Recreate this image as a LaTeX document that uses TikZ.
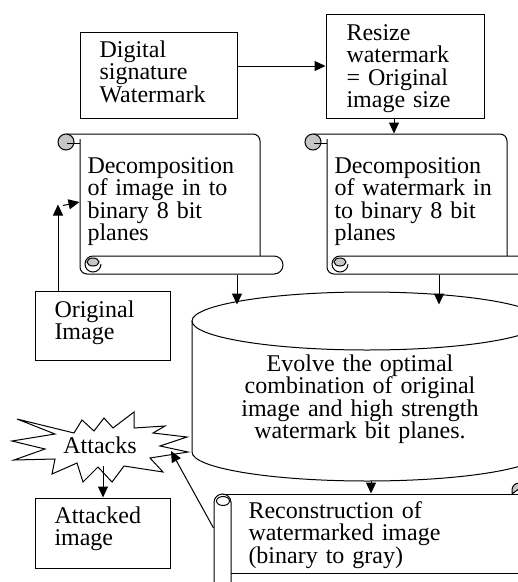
\documentclass[tikz,border=0pt]{standalone}
\usepackage{fontspec}
\setmainfont{Liberation Serif}
\usetikzlibrary{arrows.meta,calc}
\newcommand{\myvscroll}[1]{%
\begin{scope}[shift={(#1,0)}]
  % top edge and right side
  \draw (66,134) -- (253,134) arc[start angle=90,end angle=0,radius=7pt] -- (260,256);
  % top-left curl
  \filldraw[fill=gray!45] (66,142) circle[radius=8pt];
  \draw (67,143) -- (80,143);
  % left side and bottom corner
  \draw (80,139) -- (80,267) arc[start angle=180,end angle=270,radius=7pt] -- (274,274)
        arc[start angle=-90,end angle=90,radius=9pt] -- (93,256);
  % bottom curl
  \filldraw[fill=gray!45] (93,262) ellipse[x radius=6pt,y radius=4pt];
  \draw (93,256) arc[start angle=90,end angle=360,radius=8pt];
\end{scope}}
\begin{document}
\begin{tikzpicture}[x=1pt,y=-1pt,line width=1pt,
  txt/.style={inner sep=0pt,anchor=base west,align=left,text width=#1,
              font=\fontsize{24}{22.6}\selectfont},
  ctxt/.style={inner sep=0pt,anchor=base,align=center,text width=#1,
              font=\fontsize{24}{22.6}\selectfont},
  arr/.style={-{Triangle[length=11pt,width=10pt]}},
  boxnode/.style={draw,inner sep=0pt},
  ghost/.style={draw=none,inner sep=0pt}]
\useasboundingbox (0,0) rectangle (518,582);
\clip (0,0) rectangle (518,582);

% plain boxes
\node[boxnode,minimum width=157pt,minimum height=86pt] (dig) at (158.5,75) {};
\node[txt=140pt] (digt) at (99,57) {Digital\\signature\\Watermark};
\node[boxnode,minimum width=158pt,minimum height=104pt] (res) at (405,66) {};
\node[txt=140pt] (rest) at (346,40) {Resize\\watermark\\= Original\\image size};
\node[boxnode,minimum width=135pt,minimum height=69pt] (orig) at (102.5,325.5) {};
\node[txt=120pt] (origt) at (54,317) {Original\\Image};
\node[boxnode,minimum width=135pt,minimum height=70pt] (atk) at (102.5,533) {};
\node[txt=120pt] (atkt) at (54,523) {Attacked\\image};

% scrolls
\myvscroll{0}
\myvscroll{247}
\node[ghost,minimum width=180pt,minimum height=140pt] (ls) at (170,204) {};
\node[ghost,minimum width=180pt,minimum height=140pt] (rs) at (417,204) {};
\node[txt=180pt] (lst) at (87,173) {Decomposition\\of image in to\\binary 8 bit\\planes};
\node[txt=180pt] (rst) at (334,173) {Decomposition\\of watermark in\\to binary 8 bit\\planes};

% cylinder
\draw (192,321) -- (192,452) arc[start angle=180,end angle=360,x radius=175pt,y radius=29pt] -- (542,321);
\draw (367,321) ellipse[x radius=175pt,y radius=29pt];
\node[ghost,minimum width=350pt,minimum height=188pt] (cyl) at (367,386) {};
\node[ctxt=290pt] (cylt) at (360,371) {Evolve the optimal\\combination of original\\image and high strength\\watermark bit planes.};

% reconstruction scroll
\draw (214,590) -- (214,502.5) arc[start angle=180,end angle=0,radius=8.5pt] -- (231,590);
\draw (223,501) ellipse[x radius=6.5pt,y radius=4.5pt];
\draw (222.5,494) -- (530,494);
\draw (231,573) -- (530,573);
\filldraw[fill=gray!45] (512,494) -- (512,490) arc[start angle=180,end angle=45,radius=7pt] -- cycle;
\node[ghost,minimum width=316pt,minimum height=88pt] (rec) at (372,538) {};
\node[txt=260pt] (rect) at (248,518) {Reconstruction of\\watermarked image\\(binary to gray)};

% star
\draw[fill=white] (17,419) -- (55,434) -- (12,441) -- (45,449) -- (14,460) -- (55,459)
  -- (52,474) -- (77,463) -- (83,482) -- (98,467) -- (112,482) -- (124,466)
  -- (163,472) -- (150,458) -- (188,452) -- (160,446) -- (187,437) -- (153,433)
  -- (165,426) -- (134,428) -- (134,412) -- (113,428) -- (104,418) -- (94,431)
  -- (82,420) -- (74,433) -- cycle;
\node[inner sep=0pt,anchor=base,font=\fontsize{24}{22.6}\selectfont] (att) at (100,453) {Attacks};
\coordinate (attb) at (103,466);
\coordinate (atip) at (171,451);

% connectors
\draw[arr] (res.west -| dig.east) -- (res.west);
\draw[arr] ([xshift=-11pt]res.south) -- ([xshift=-11pt]res.south |- rs.north);
\draw[arr] ([xshift=67pt]ls.south) -- ([xshift=67pt,yshift=-13pt]ls.south |- cyl.north);
\draw[arr] ([xshift=22pt]rs.south) -- ([xshift=22pt,yshift=-13pt]rs.south |- cyl.north);
\draw[arr] ([xshift=4pt]cyl.south) -- ([xshift=4pt]cyl.south |- rec.north);
\draw[arr] ([yshift=10pt]rec.west) -- (atip);
\draw[arr] (attb) -- (attb |- atk.north);
\draw[arr] ([xshift=-44.5pt]orig.north) -- ([xshift=-44.5pt,yshift=86pt]orig.north);
\draw[arr] ([xshift=-39.5pt,yshift=85pt]orig.north) -- ([yshift=2pt]ls.west);
\end{tikzpicture}
\end{document}
